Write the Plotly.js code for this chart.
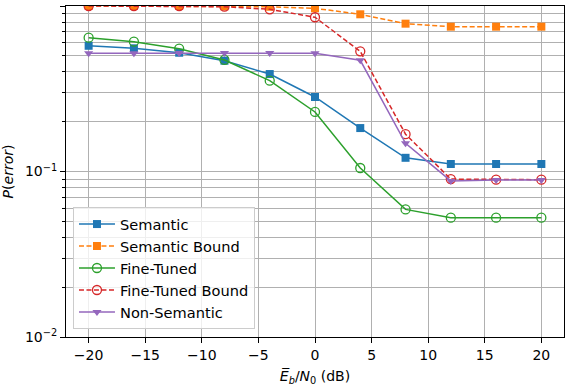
<!DOCTYPE html>
<html>
<head>
<meta charset="utf-8">
<script src="https://cdn.plot.ly/plotly-3.0.1.min.js"></script>
<style>
  body { margin: 0; background: #fff; }
  #chart { width: 566px; height: 386px; }
</style>
</head>
<body>
<div id="chart"></div>
<script>
// Eb/N0 points (dB)
const snr = [-20, -16, -12, -8, -4, 0, 4, 8, 12, 16, 20];

const semantic = [0.575, 0.555, 0.522, 0.467, 0.388, 0.282, 0.183, 0.121, 0.111, 0.111, 0.111];
const semanticBound = [1.0, 1.0, 1.0, 0.995, 0.99, 0.968, 0.891, 0.782, 0.75, 0.75, 0.75];
const fineTuned = [0.644, 0.609, 0.552, 0.472, 0.354, 0.229, 0.105, 0.059, 0.0526, 0.0526, 0.0526];
const fineTunedBound = [1.0, 1.0, 1.0, 0.99, 0.955, 0.855, 0.532, 0.168, 0.09, 0.0892, 0.0892];
const nonSemantic = [0.518, 0.518, 0.52, 0.52, 0.52, 0.518, 0.47, 0.148, 0.0877, 0.089, 0.089];

const yTickVals = [0.01, 0.1, 1];
const yTickText = ["10<sup>\u22122</sup>", "10<sup>\u22121</sup>", "10<sup>0</sup>"];

// minor ticks 2..9 in each decade
const minorVals = [];
[0.01, 0.1].forEach((d) => {
  for (let k = 2; k <= 9; k++) minorVals.push(d * k);
});

const font = "DejaVu Sans, sans-serif";
const fs = 14;
const grid = "#b0b0b0";

function series(y, name, color, symbol, dash, open) {
  return {
    x: snr,
    y: y,
    name: name,
    legendgroup: name,
    type: "scatter",
    mode: "lines+markers",
    line: { color: color, width: 1.5, dash: dash },
    marker: {
      symbol: symbol,
      size: open ? 9 : 8,
      color: color,
      line: { color: color, width: open ? 1.3 : 0 },
    },
  };
}

const traces = [
  series(semantic, "Semantic", "#1f77b4", "square", "solid", false),
  series(semanticBound, "Semantic Bound", "#ff7f0e", "square", "5px,2.5px", false),
  series(fineTuned, "Fine-Tuned", "#2ca02c", "circle-open", "solid", true),
  series(fineTunedBound, "Fine-Tuned Bound", "#d62728", "circle-open", "5px,2.5px", true),
  series(nonSemantic, "Non-Semantic", "#9467bd", "triangle-down", "solid", false),
];

const layout = {
  width: 566,
  height: 386,
  margin: { l: 66, r: 2, t: 6, b: 49 },
  paper_bgcolor: "#fff",
  plot_bgcolor: "#fff",
  font: { family: font, size: fs, color: "#000" },
  showlegend: true,
  legend: {
    x: 0.014,
    y: 0.024,
    xanchor: "left",
    yanchor: "bottom",
    bgcolor: "rgba(255,255,255,0.8)",
    bordercolor: "#cccccc",
    borderwidth: 1,
    tracegroupgap: 0,
    itemwidth: 36,
    font: { family: font, size: 14.6 },
  },
  xaxis: {
    range: [-22, 22],
    tick0: 0,
    dtick: 5,
    showgrid: true,
    gridcolor: grid,
    gridwidth: 1,
    zeroline: false,
    showline: true,
    linecolor: "#000",
    linewidth: 1,
    mirror: true,
    ticks: "outside",
    ticklen: 5,
    tickcolor: "#000",
    tickfont: { family: font, size: fs },
    title: {
      text: "<i>E\u0305</i><sub><i>b</i></sub>/<i>N</i><sub>0</sub> (dB)",
      font: { family: font, size: fs },
      standoff: 17,
    },
  },
  yaxis: {
    type: "log",
    range: [-2, 0],
    tickmode: "array",
    tickvals: yTickVals,
    ticktext: yTickText,
    showgrid: true,
    gridcolor: grid,
    gridwidth: 1,
    zeroline: false,
    showline: true,
    linecolor: "#000",
    linewidth: 1,
    mirror: true,
    ticks: "outside",
    ticklen: 5,
    tickcolor: "#000",
    tickfont: { family: font, size: fs },
    minor: {
      tickmode: "array",
      tickvals: minorVals,
      ticks: "outside",
      ticklen: 3,
      tickcolor: "#000",
      showgrid: true,
      gridcolor: grid,
      gridwidth: 1,
    },
    title: {
      text: "<i>P</i>(<i>error</i>)",
      font: { family: font, size: fs },
      standoff: 9,
    },
  },
};

Plotly.newPlot("chart", traces, layout, { displayModeBar: false, staticPlot: true });
</script>
</body>
</html>
